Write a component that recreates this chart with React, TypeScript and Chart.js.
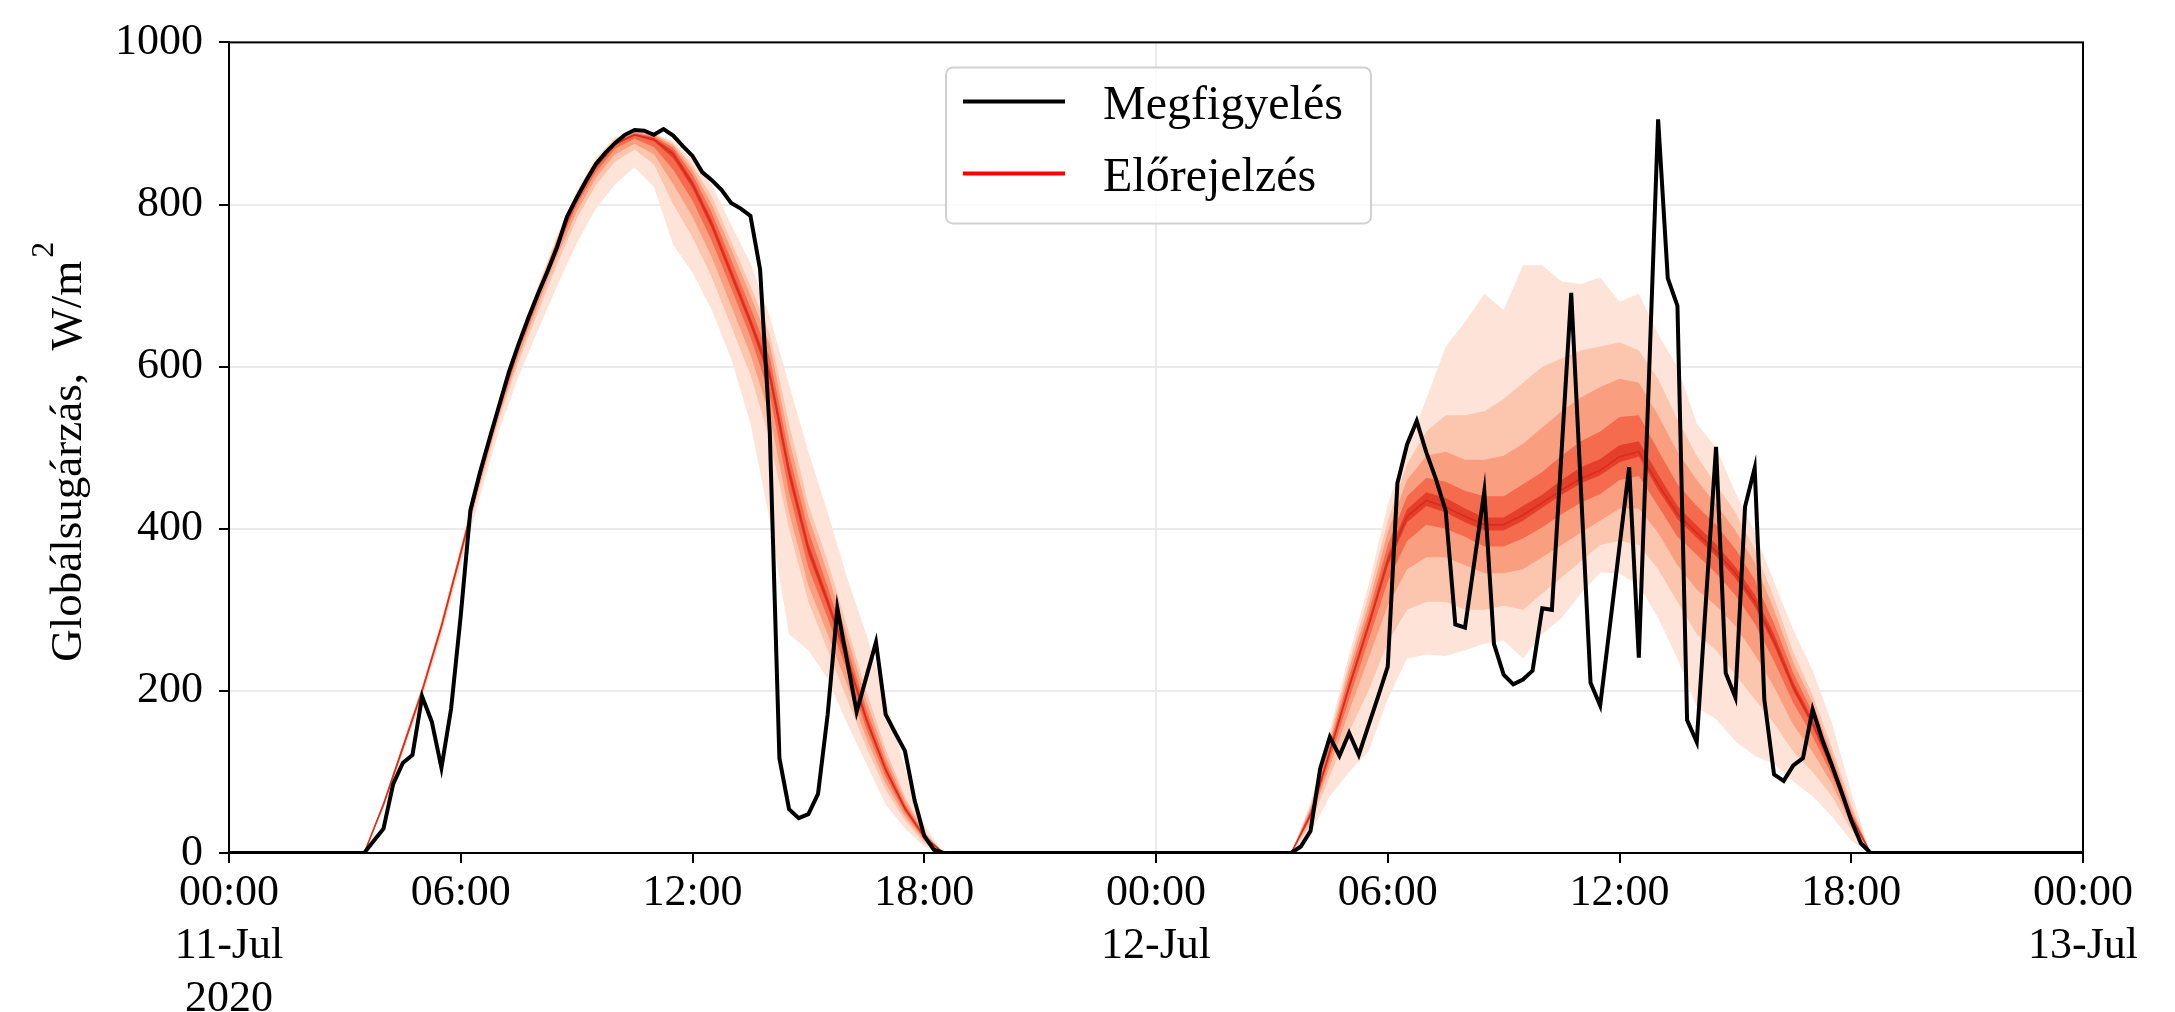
import { useEffect, useRef } from "react";
import { Chart, registerables } from "chart.js";

Chart.register(...registerables);

const FONT = "'Liberation Serif', 'Times New Roman', Times, serif";

// Hours since 00:00 11-Jul-2020
const X_MIN = 0;
const X_MAX = 48;
const X_TICKS = [0, 6, 12, 18, 24, 30, 36, 42, 48];
const X_TICK_LABELS: (string | string[])[] = [
  ["00:00", "11-Jul", "2020"],
  "06:00",
  "12:00",
  "18:00",
  ["00:00", "12-Jul"],
  "06:00",
  "12:00",
  "18:00",
  ["00:00", "13-Jul"],
];
const Y_TICKS = [0, 200, 400, 600, 800, 1000];
const Y_TITLE = "Globálsugárzás,  W/m";
const Y_TITLE_SUP = "2";

// Measured global radiation, 15-minute samples (W/m2)
const OBS_STEP = 0.25;
const OBS_DAY1_START = 3.5;
const obsDay1 = [
  0, 15, 30, 85, 111, 121, 193, 162, 105, 178, 293, 423,
  470, 512, 553, 594, 628, 660, 690, 718, 748, 785, 808, 830,
  850, 864, 876, 886, 892, 891, 886, 893, 885, 872, 860, 840,
  830, 818, 802, 795, 786, 720, 520, 117, 54, 43, 48, 73,
  171, 302, 238, 174, 217, 260, 171, 148, 126, 65, 21, 4, 0,
];
const OBS_DAY2_START = 27.5;
const obsDay2 = [
  0, 8, 27, 104, 143, 120, 148, 121, 157, 193, 230, 456,
  504, 533, 494, 461, 422, 282, 278, 362, 446, 258, 220, 208,
  214, 225, 302, 300, 495, 691, 450, 210, 182, 280, 378, 476,
  241, 570, 905, 709, 675, 164, 137, 320, 501, 222, 192, 427,
  475, 189, 97, 89, 108, 117, 177, 140, 108, 75, 40, 12, 0,
];

// Ensemble forecast quantiles, 30-minute samples (W/m2), 03:30 .. 18:30 each day
const FC_STEP = 0.5;
const FC_DAY1_START = 3.5;
const FC_DAY2_START = 27.5;

const medDay1 = [0, 60, 130, 200, 280, 370, 464, 550, 626, 689, 752, 806, 847, 875, 886, 880, 862, 825, 775, 715, 655, 590, 470, 375, 310, 240, 165, 103, 55, 20, 0];
const q05Day1 = [0, 55, 122, 190, 268, 355, 440, 522, 588, 645, 700, 752, 795, 825, 846, 822, 750, 716, 670, 610, 530, 410, 270, 250, 215, 160, 110, 60, 30, 8, 0];
const q15Day1 = [0, 57, 125, 194, 273, 362, 452, 536, 606, 667, 727, 782, 824, 853, 868, 850, 800, 760, 710, 650, 590, 510, 400, 310, 250, 190, 130, 78, 40, 12, 0];
const q25Day1 = [0, 58, 127, 196, 275, 365, 456, 541, 613, 676, 737, 791, 833, 862, 875, 862, 825, 785, 735, 675, 615, 540, 420, 330, 270, 208, 142, 86, 45, 15, 0];
const q35Day1 = [0, 59, 128, 198, 277, 367, 460, 545, 619, 682, 745, 799, 840, 869, 881, 871, 843, 805, 755, 697, 637, 565, 445, 352, 290, 225, 153, 94, 50, 17, 0];
const q45Day1 = [0, 60, 129, 199, 279, 369, 463, 549, 624, 687, 750, 804, 845, 873, 885, 878, 857, 820, 770, 710, 650, 583, 462, 368, 304, 235, 161, 100, 53, 19, 0];
const q55Day1 = [0, 60, 131, 201, 281, 371, 465, 551, 627, 690, 754, 808, 849, 876, 887, 882, 866, 830, 781, 721, 661, 598, 478, 382, 316, 245, 169, 106, 57, 21, 0];
const q65Day1 = [0, 61, 132, 202, 282, 373, 467, 553, 629, 693, 756, 810, 851, 878, 888, 884, 870, 837, 790, 732, 673, 612, 492, 398, 328, 255, 177, 112, 60, 23, 0];
const q75Day1 = [0, 62, 133, 204, 284, 375, 469, 555, 631, 695, 758, 812, 853, 880, 889, 886, 873, 843, 800, 745, 688, 628, 510, 415, 345, 268, 188, 120, 65, 25, 0];
const q85Day1 = [0, 63, 134, 205, 285, 376, 471, 557, 633, 697, 760, 814, 855, 881, 890, 887, 876, 848, 810, 755, 700, 640, 530, 430, 360, 280, 200, 128, 70, 27, 0];
const q95Day1 = [0, 64, 136, 207, 288, 379, 474, 560, 636, 700, 763, 817, 858, 883, 891, 888, 878, 855, 825, 775, 728, 662, 578, 495, 420, 340, 270, 190, 105, 35, 0];

const medDay2 = [0, 47, 125, 205, 280, 360, 415, 435, 427, 415, 405, 405, 417, 432, 448, 462, 472, 489, 495, 455, 418, 395, 372, 345, 310, 262, 205, 160, 105, 45, 0];
const q05Day2 = [0, 25, 70, 100, 125, 190, 240, 245, 243, 250, 258, 262, 240, 270, 290, 320, 346, 345, 330, 290, 240, 180, 165, 138, 120, 110, 88, 70, 45, 15, 0];
const q15Day2 = [0, 35, 95, 150, 200, 260, 300, 310, 310, 300, 300, 305, 300, 320, 340, 360, 380, 385, 380, 350, 310, 270, 250, 220, 190, 160, 125, 100, 70, 28, 0];
const q25Day2 = [0, 40, 107, 175, 240, 305, 350, 365, 365, 355, 345, 345, 350, 365, 380, 395, 410, 425, 425, 395, 355, 325, 305, 280, 245, 205, 158, 125, 85, 35, 0];
const q35Day2 = [0, 43, 115, 190, 262, 335, 385, 405, 400, 390, 378, 378, 388, 402, 418, 432, 443, 460, 465, 428, 390, 368, 345, 318, 283, 237, 185, 144, 96, 40, 0];
const q45Day2 = [0, 46, 122, 201, 276, 354, 408, 428, 420, 408, 398, 398, 410, 426, 442, 456, 466, 482, 489, 448, 412, 389, 366, 339, 304, 256, 200, 156, 102, 44, 0];
const q55Day2 = [0, 48, 128, 209, 285, 367, 424, 445, 438, 425, 414, 414, 428, 442, 460, 476, 486, 503, 508, 467, 428, 404, 381, 353, 319, 270, 211, 165, 108, 47, 0];
const q65Day2 = [0, 52, 133, 218, 295, 380, 440, 463, 458, 447, 440, 440, 455, 470, 490, 508, 520, 538, 540, 497, 455, 428, 405, 375, 337, 283, 222, 173, 114, 50, 0];
const q75Day2 = [0, 55, 139, 227, 306, 396, 460, 490, 495, 485, 485, 490, 505, 525, 545, 562, 575, 585, 580, 540, 495, 460, 430, 398, 358, 300, 235, 185, 122, 55, 0];
const q85Day2 = [0, 58, 145, 235, 318, 410, 480, 520, 540, 540, 545, 560, 580, 600, 610, 620, 625, 630, 620, 585, 535, 490, 455, 420, 375, 315, 248, 195, 130, 60, 0];
const q95Day2 = [0, 62, 152, 245, 330, 430, 500, 560, 625, 655, 690, 670, 725, 725, 705, 702, 710, 680, 690, 640, 600, 530, 500, 445, 395, 335, 275, 225, 160, 75, 0];

type Pt = { x: number; y: number };

function toSeries(start1: number, day1: number[], start2: number, day2: number[], step: number): Pt[] {
  const pts: Pt[] = [{ x: X_MIN, y: 0 }];
  day1.forEach((v, i) => pts.push({ x: start1 + i * step, y: v }));
  day2.forEach((v, i) => pts.push({ x: start2 + i * step, y: v }));
  pts.push({ x: X_MAX, y: 0 });
  return pts;
}

const fc = (d1: number[], d2: number[]) => toSeries(FC_DAY1_START, d1, FC_DAY2_START, d2, FC_STEP);

// Quantile bands from outside in, light to dark (Reds)
const BANDS = [
  { hi: fc(q95Day1, q95Day2), lo: fc(q05Day1, q05Day2), color: "#fee4d8" },
  { hi: fc(q85Day1, q85Day2), lo: fc(q15Day1, q15Day2), color: "#fcc5ae" },
  { hi: fc(q75Day1, q75Day2), lo: fc(q25Day1, q25Day2), color: "#fa9e80" },
  { hi: fc(q65Day1, q65Day2), lo: fc(q35Day1, q35Day2), color: "#f46c4d" },
  { hi: fc(q55Day1, q55Day2), lo: fc(q45Day1, q45Day2), color: "#e33f2a" },
];

const LEGEND_ITEMS = [
  { label: "Megfigyelés", color: "#000000" },
  { label: "Előrejelzés", color: "#ff0000" },
];

const decorations = {
  id: "decorations",
  afterDraw(chart: Chart) {
    const { ctx, chartArea: a } = chart;
    ctx.save();

    // full axes frame
    ctx.strokeStyle = "#000";
    ctx.lineWidth = 2;
    ctx.strokeRect(a.left, a.top, a.right - a.left, a.bottom - a.top);

    // y axis title with superscript unit
    const mainFont = `45px ${FONT}`;
    const supFont = `32px ${FONT}`;
    ctx.font = mainFont;
    const w1 = ctx.measureText(Y_TITLE).width;
    ctx.font = supFont;
    const w2 = ctx.measureText(Y_TITLE_SUP).width;
    const total = w1 + 3 + w2;
    ctx.translate(81, (a.top + a.bottom) / 2 + 4);
    ctx.rotate(-Math.PI / 2);
    ctx.fillStyle = "#000";
    ctx.textAlign = "left";
    ctx.textBaseline = "alphabetic";
    ctx.font = mainFont;
    ctx.fillText(Y_TITLE, -total / 2, 0);
    ctx.font = supFont;
    ctx.fillText(Y_TITLE_SUP, -total / 2 + w1 + 3, -28);
    ctx.setTransform(1, 0, 0, 1, 0, 0);

    // legend box
    const bx = a.left + 717;
    const by = a.top + 25;
    const bw = 425;
    const bh = 156;
    ctx.beginPath();
    ctx.roundRect(bx, by, bw, bh, 7);
    ctx.fillStyle = "rgba(255,255,255,0.8)";
    ctx.fill();
    ctx.strokeStyle = "rgba(204,204,204,0.9)";
    ctx.lineWidth = 2;
    ctx.stroke();

    ctx.font = `48px ${FONT}`;
    ctx.textBaseline = "alphabetic";
    ctx.textAlign = "left";
    LEGEND_ITEMS.forEach((item, i) => {
      const ly = by + 34 + i * 72;
      ctx.beginPath();
      ctx.moveTo(bx + 17, ly);
      ctx.lineTo(bx + 119, ly);
      ctx.strokeStyle = item.color;
      ctx.lineWidth = 4;
      ctx.stroke();
      ctx.fillStyle = "#000";
      ctx.fillText(item.label, bx + 157, ly + 18);
    });
    ctx.restore();
  },
};

export default function App() {
  const ref = useRef<HTMLCanvasElement>(null);

  useEffect(() => {
    if (!ref.current) return;

    const bandSets: any[] = [];
    BANDS.forEach((b, i) => {
      const order = 10 - i;
      bandSets.push({
        data: b.hi,
        borderColor: "rgba(0,0,0,0)",
        borderWidth: 0,
        backgroundColor: b.color,
        fill: "+1",
        pointRadius: 0,
        order,
      });
      bandSets.push({
        data: b.lo,
        borderColor: "rgba(0,0,0,0)",
        borderWidth: 0,
        fill: false,
        pointRadius: 0,
        order,
      });
    });

    const chart = new Chart(ref.current, {
      type: "line",
      data: {
        datasets: [
          {
            label: "Megfigyelés",
            data: toSeries(OBS_DAY1_START, obsDay1, OBS_DAY2_START, obsDay2, OBS_STEP),
            borderColor: "#000",
            borderWidth: 4,
            pointRadius: 0,
            fill: false,
            order: 0,
          },
          {
            label: "Előrejelzés",
            data: fc(medDay1, medDay2),
            borderColor: "#dc2a1c",
            borderWidth: 1.6,
            pointRadius: 0,
            fill: false,
            order: 1,
          },
          ...bandSets,
        ],
      },
      options: {
        animation: false,
        responsive: false,
        events: [],
        layout: { padding: { top: 33, right: 92, left: 0, bottom: 0 } },
        plugins: {
          legend: { display: false },
          tooltip: { enabled: false },
        },
        scales: {
          x: {
            type: "linear",
            min: X_MIN,
            max: X_MAX,
            afterBuildTicks: (s: any) => {
              s.ticks = X_TICKS.map((v) => ({ value: v }));
            },
            afterFit: (s: any) => {
              s.height = 159;
            },
            ticks: {
              autoSkip: false,
              maxRotation: 0,
              padding: 4,
              color: "#000",
              font: { family: FONT, size: 44, lineHeight: 1.2 },
              callback: (v: any) => X_TICK_LABELS[X_TICKS.indexOf(Number(v))] ?? "",
            },
            grid: {
              color: (c: any) => (c.tick && c.tick.value % 24 === 0 ? "#ebebeb" : "rgba(0,0,0,0)"),
              lineWidth: 2,
              tickColor: "#000",
              tickLength: 10,
              tickWidth: 2,
            },
            border: { color: "#000", width: 2 },
          },
          y: {
            type: "linear",
            min: 0,
            max: 1000,
            afterBuildTicks: (s: any) => {
              s.ticks = Y_TICKS.map((v) => ({ value: v }));
            },
            afterFit: (s: any) => {
              s.width = 229;
            },
            ticks: {
              padding: 16,
              color: "#000",
              font: { family: FONT, size: 44 },
              callback: (v: any) => String(v),
            },
            grid: {
              color: "#ebebeb",
              lineWidth: 2,
              tickColor: "#000",
              tickLength: 10,
              tickWidth: 2,
            },
            border: { color: "#000", width: 2 },
          },
        },
      },
      plugins: [decorations],
    });

    return () => chart.destroy();
  }, []);

  return (
    <div style={{ position: "absolute", left: 0, top: 0, width: 2175, height: 1012, background: "#fff" }}>
      <canvas ref={ref} width={2175} height={1012} style={{ display: "block" }} />
    </div>
  );
}
